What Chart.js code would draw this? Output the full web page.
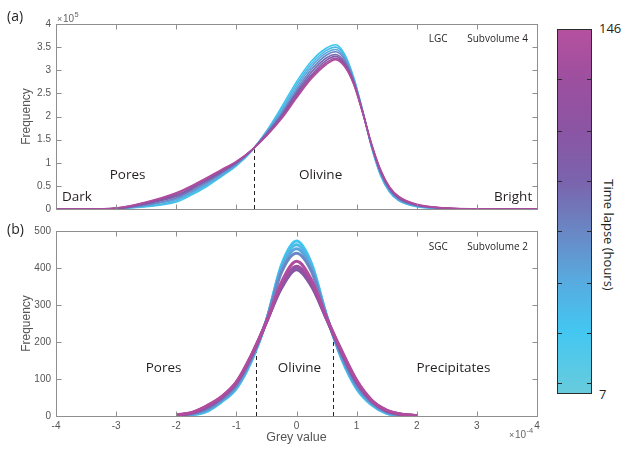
<!DOCTYPE html>
<html>
<head>
<meta charset="utf-8">
<title>Grey value histograms</title>
<script src="https://cdn.jsdelivr.net/npm/chart.js@4.4.1/dist/chart.umd.min.js"></script>
<style>
  body { margin: 0; background: #fff; width: 623px; height: 450px; position: relative; overflow: hidden; font-family: 'Open Sans', sans-serif; }
  canvas { position: absolute; left: 0; }
  #lgcCanvas { top: 0; }
  #sgcCanvas { top: 220px; }
  #cbar { position: absolute; box-sizing: border-box; border: 1px solid #2b2b2b; }
  .cbtick { position: absolute; height: 1px; width: 4px; background: #2b2b2b; }
  .cblabel { position: absolute; font-size: 13px; color: #231f20; line-height: 14px; }
  #cbTitle { position: absolute; font-size: 13px; color: #231f20; white-space: nowrap; transform: translate(-50%, -50%) rotate(90deg); }
</style>
</head>
<body>
<canvas id="lgcCanvas" width="545" height="220"></canvas>
<canvas id="sgcCanvas" width="545" height="230"></canvas>
<div id="cbar"></div>
<div class="cblabel" id="cbMax"></div>
<div class="cblabel" id="cbMin"></div>
<div id="cbTitle">Time lapse (hours)</div>
<script>
// axis ticks
const greyTicks = [-4, -3, -2, -1, 0, 1, 2, 3, 4];
const lgcTicks = [0, 0.5, 1, 1.5, 2, 2.5, 3, 3.5, 4];
const sgcTicks = [0, 100, 200, 300, 400, 500];

// time steps (hours) and colour bar ticks
const timeLapse = [7, 27, 47, 67, 87, 107, 127, 146];
const barTicks = [11, 30, 49, 69, 88, 107, 127];

// LGC subvolume 4, frequency in units of 1e5
const lgcGrey = [-4, -3.5, -3, -2.5, -2, -1.75, -1.5, -1.25, -1, -0.75, -0.5, -0.25, 0, 0.25, 0.5, 0.65, 0.8, 0.95, 1.1, 1.25, 1.4, 1.55, 1.7, 2, 2.5, 3, 4];
const lgc7   = [0, 0, 0.01, 0.05, 0.15, 0.30, 0.48, 0.70, 0.93, 1.25, 1.68, 2.20, 2.75, 3.20, 3.48, 3.55, 3.35, 2.85, 2.13, 1.33, 0.72, 0.36, 0.18, 0.05, 0.01, 0, 0];
const lgc27  = [0, 0, 0.01, 0.06, 0.18, 0.33, 0.51, 0.72, 0.95, 1.25, 1.67, 2.15, 2.69, 3.14, 3.43, 3.50, 3.31, 2.83, 2.12, 1.34, 0.74, 0.38, 0.19, 0.06, 0.01, 0, 0];
const lgc47  = [0, 0, 0.01, 0.08, 0.21, 0.36, 0.54, 0.74, 0.96, 1.26, 1.65, 2.10, 2.63, 3.08, 3.38, 3.45, 3.27, 2.80, 2.11, 1.35, 0.76, 0.40, 0.20, 0.07, 0.01, 0, 0];
const lgc67  = [0, 0, 0.01, 0.09, 0.24, 0.39, 0.57, 0.77, 0.98, 1.26, 1.64, 2.06, 2.57, 3.02, 3.33, 3.40, 3.23, 2.78, 2.11, 1.36, 0.78, 0.41, 0.22, 0.07, 0.01, 0, 0];
const lgc87  = [0, 0, 0.01, 0.11, 0.27, 0.42, 0.60, 0.79, 1.00, 1.26, 1.62, 2.03, 2.52, 2.96, 3.27, 3.34, 3.18, 2.76, 2.10, 1.37, 0.79, 0.43, 0.23, 0.08, 0.015, 0, 0];
const lgc107 = [0, 0, 0.01, 0.12, 0.30, 0.45, 0.62, 0.81, 1.01, 1.27, 1.61, 2.00, 2.48, 2.90, 3.22, 3.30, 3.14, 2.74, 2.09, 1.38, 0.81, 0.44, 0.24, 0.09, 0.015, 0, 0];
const lgc127 = [0, 0, 0.02, 0.14, 0.33, 0.48, 0.65, 0.83, 1.02, 1.27, 1.59, 1.97, 2.44, 2.86, 3.17, 3.26, 3.11, 2.72, 2.09, 1.39, 0.83, 0.46, 0.26, 0.09, 0.02, 0, 0];
const lgc146 = [0, 0, 0.02, 0.15, 0.35, 0.50, 0.67, 0.85, 1.03, 1.27, 1.58, 1.95, 2.40, 2.82, 3.13, 3.23, 3.08, 2.70, 2.08, 1.40, 0.84, 0.47, 0.27, 0.10, 0.02, 0.005, 0];

// SGC subvolume 2
const sgcGrey = [-2, -1.75, -1.5, -1.25, -1, -0.75, -0.5, -0.25, 0, 0.25, 0.5, 0.75, 1, 1.25, 1.5, 1.75, 2];
const sgc7   = [0, 3, 12, 38, 74, 148, 258, 408, 473, 412, 272, 155, 74, 30, 7, 2, 0];
const sgc27  = [0, 4, 14, 40, 77, 151, 258, 402, 463, 405, 270, 158, 77, 32, 8, 2, 0];
const sgc47  = [1, 5, 16, 42, 80, 154, 258, 395, 452, 398, 269, 161, 80, 34, 9, 3, 0];
const sgc67  = [1, 6, 18, 44, 83, 157, 257, 388, 440, 390, 268, 164, 84, 36, 11, 3, 0];
const sgc87  = [2, 7, 22, 48, 88, 160, 254, 348, 398, 352, 262, 170, 90, 40, 13, 4, 1];
const sgc107 = [2, 8, 24, 50, 90, 162, 254, 345, 395, 350, 262, 172, 92, 41, 14, 4, 1];
const sgc127 = [3, 8, 26, 51, 91, 164, 253, 352, 405, 357, 264, 175, 95, 42, 15, 5, 1];
const sgc146 = [3, 9, 27, 52, 92, 165, 255, 362, 418, 368, 266, 177, 97, 43, 16, 5, 1];

// phase thresholds (grey value) and where they meet the curves
const lgcCuts = [-0.7];
const lgcCutTops = [1.29];
const sgcCuts = [-0.68, 0.6];
const sgcCutTops = [182, 222];

const curveColors = ['#3fc6ef', '#4cb8e8', '#5aa5dc', '#6a88c6', '#7768b2', '#8458a6', '#9a4fa0', '#b04b9d'];
// colour bar, bottom (7 h) to top (146 h)
const barColors = ['#68cbdc', '#43c7f2', '#58aadf', '#6a86c4', '#7a64ad', '#8a55a4', '#9c4f9f', '#b5519e'];
const barStops = [0, 0.17, 0.31, 0.45, 0.58, 0.72, 0.86, 1];

const tickFont = { family: 'Liberation Sans', size: 10 };
const axisGrey = '#8f8f8f';
const textDark = '#231f20';

const framePlugin = {
    id: 'frame',
    beforeDatasetsDraw(chart, args, opts) {
        const ctx = chart.ctx, x = chart.scales.x, y = chart.scales.y;
        ctx.save();
        ctx.strokeStyle = '#222';
        ctx.lineWidth = 1;
        ctx.setLineDash([4, 3]);
        opts.cuts.forEach(function (c, i) {
            const px = Math.round(x.getPixelForValue(c)) + 0.5;
            ctx.beginPath();
            ctx.moveTo(px, y.getPixelForValue(0));
            ctx.lineTo(px, y.getPixelForValue(opts.cutTops[i]));
            ctx.stroke();
        });
        ctx.restore();
    },
    afterDraw(chart, args, opts) {
        const ctx = chart.ctx, x = chart.scales.x, y = chart.scales.y;
        const a = chart.chartArea;
        const l = Math.round(a.left) + 0.5, r = Math.round(a.right) + 0.5;
        const t = Math.round(a.top) + 0.5, b = Math.round(a.bottom) + 0.5;
        ctx.save();
        ctx.strokeStyle = axisGrey;
        ctx.lineWidth = 1;
        ctx.strokeRect(l, t, r - l, b - t);
        // inward tick marks on every side
        ctx.beginPath();
        greyTicks.forEach(function (v) {
            const px = Math.round(x.getPixelForValue(v)) + 0.5;
            ctx.moveTo(px, b); ctx.lineTo(px, b - 5);
            ctx.moveTo(px, t); ctx.lineTo(px, t + 5);
        });
        opts.yTicks.forEach(function (v) {
            const py = Math.round(y.getPixelForValue(v)) + 0.5;
            ctx.moveTo(l, py); ctx.lineTo(l + 5, py);
            ctx.moveTo(r, py); ctx.lineTo(r - 5, py);
        });
        ctx.stroke();

        // region names and panel tags
        ctx.fillStyle = textDark;
        ctx.textBaseline = 'middle';
        opts.notes.forEach(function (n) {
            ctx.font = n.size + 'px "Open Sans"';
            ctx.textAlign = n.align;
            ctx.fillText(n.text, x.getPixelForValue(n.x), y.getPixelForValue(n.y));
        });
        ctx.font = '14px "Open Sans"';
        ctx.textAlign = 'left';
        ctx.fillText(opts.tag, 7, opts.tagY);

        // y axis title
        ctx.fillStyle = '#555';
        ctx.font = '12px "Liberation Sans"';
        ctx.textAlign = 'center';
        ctx.save();
        ctx.translate(27, (a.top + a.bottom) / 2);
        ctx.rotate(-Math.PI / 2);
        ctx.fillText('Frequency', 0, 0);
        ctx.restore();

        if (opts.xTitle) {
            ctx.font = '12.5px "Liberation Sans"';
            ctx.fillText(opts.xTitle, (a.left + a.right) / 2, a.bottom + 22);
        }

        // exponent marker
        if (opts.exponent) {
            const e = opts.exponent;
            ctx.textBaseline = 'alphabetic';
            ctx.textAlign = 'left';
            ctx.fillStyle = '#666';
            ctx.font = '9px "Liberation Sans"';
            ctx.fillText('\u00d7', e.x, e.y);
            ctx.font = '10px "Liberation Sans"';
            ctx.fillText('10', e.x + 6, e.y);
            ctx.font = '7.5px "Liberation Sans"';
            ctx.fillText(e.power, e.x + 17.5, e.y - 5);
        }
        ctx.restore();
    }
};

function histogramPanel(canvasEl, grey, series, cfg) {
    const datasets = series.map(function (values, i) {
        return {
            label: timeLapse[i] + ' h',
            data: values.map(function (v, k) { return { x: grey[k], y: v }; }),
            borderColor: curveColors[i],
            borderWidth: cfg.lineWidth,
            pointRadius: 0,
            cubicInterpolationMode: 'monotone',
            fill: false,
            order: series.length - i
        };
    });

    return new Chart(canvasEl.getContext('2d'), {
        type: 'line',
        data: { datasets: datasets },
        options: {
            responsive: false,
            animation: false,
            events: [],
            layout: { padding: cfg.padding },
            plugins: {
                legend: { display: false },
                tooltip: { enabled: false },
                frame: cfg.frame
            },
            scales: {
                x: {
                    type: 'linear',
                    min: -4,
                    max: 4,
                    grid: { display: false, drawTicks: false },
                    border: { display: false },
                    afterBuildTicks: function (s) { s.ticks = greyTicks.map(function (v) { return { value: v }; }); },
                    ticks: {
                        display: cfg.xLabels,
                        autoSkip: false,
                        maxRotation: 0,
                        padding: 4,
                        color: '#555',
                        font: tickFont,
                        callback: function (v) { return String(v); }
                    },
                    afterFit: function (s) { s.height = cfg.xHeight; }
                },
                y: {
                    type: 'linear',
                    min: 0,
                    max: cfg.yMax,
                    grid: { display: false, drawTicks: false },
                    border: { display: false },
                    afterBuildTicks: function (s) { s.ticks = cfg.frame.yTicks.map(function (v) { return { value: v }; }); },
                    ticks: {
                        autoSkip: false,
                        padding: 5,
                        color: '#555',
                        font: tickFont,
                        callback: function (v) { return String(v); }
                    },
                    afterFit: function (s) { s.width = 56; }
                }
            }
        },
        plugins: [framePlugin]
    });
}

function drawColorBar() {
    const top = 29, bottom = 393, left = 557, width = 35;
    const bar = document.getElementById('cbar');
    const lo = timeLapse[0], hi = timeLapse[timeLapse.length - 1];
    const stops = barColors.map(function (c, i) { return c + ' ' + (barStops[i] * 100) + '%'; });
    Object.assign(bar.style, {
        left: left + 'px', top: top + 'px', width: width + 'px', height: (bottom - top + 1) + 'px',
        background: 'linear-gradient(to top, ' + stops.join(', ') + ')'
    });
    const toY = function (t) { return bottom - (t - lo) / (hi - lo) * (bottom - top); };
    barTicks.forEach(function (t) {
        [left + 1, left + width - 5].forEach(function (x) {
            const d = document.createElement('div');
            d.className = 'cbtick';
            d.style.left = x + 'px';
            d.style.top = Math.round(toY(t)) + 'px';
            document.body.appendChild(d);
        });
    });
    const maxLbl = document.getElementById('cbMax');
    maxLbl.textContent = String(hi);
    maxLbl.style.left = '599px';
    maxLbl.style.top = (toY(hi) - 8) + 'px';
    const minLbl = document.getElementById('cbMin');
    minLbl.textContent = String(lo);
    minLbl.style.left = '599px';
    minLbl.style.top = (toY(lo) - 6) + 'px';
    const title = document.getElementById('cbTitle');
    title.style.left = '609px';
    title.style.top = '235px';
}

histogramPanel(document.getElementById('lgcCanvas'), lgcGrey,
    [lgc7, lgc27, lgc47, lgc67, lgc87, lgc107, lgc127, lgc146], {
        lineWidth: 1.6,
        yMax: 4,
        xLabels: false,
        xHeight: 10,
        padding: { top: 24, right: 8, left: 0, bottom: 0 },
        frame: {
            yTicks: lgcTicks,
            cuts: lgcCuts,
            cutTops: lgcCutTops,
            tag: '(a)',
            tagY: 17,
            exponent: { x: 57, y: 22, power: '5' },
            notes: [
                { text: 'Dark', x: -3.9, y: 0.25, align: 'left', size: 13.5 },
                { text: 'Pores', x: -2.81, y: 0.73, align: 'center', size: 13.5 },
                { text: 'Olivine', x: 0.4, y: 0.73, align: 'center', size: 13.5 },
                { text: 'Bright', x: 3.92, y: 0.25, align: 'right', size: 13.5 },
                { text: 'LGC', x: 2.2, y: 3.68, align: 'left', size: 10 },
                { text: 'Subvolume 4', x: 2.84, y: 3.68, align: 'left', size: 10 }
            ]
        }
    });

histogramPanel(document.getElementById('sgcCanvas'), sgcGrey,
    [sgc7, sgc27, sgc47, sgc67, sgc87, sgc107, sgc127, sgc146], {
        lineWidth: 3,
        yMax: 500,
        xLabels: true,
        xHeight: 34,
        padding: { top: 10, right: 8, left: 0, bottom: 0 },
        frame: {
            yTicks: sgcTicks,
            cuts: sgcCuts,
            cutTops: sgcCutTops,
            tag: '(b)',
            tagY: 10,
            xTitle: 'Grey value',
            exponent: { x: 509, y: 218, power: '-4' },
            notes: [
                { text: 'Pores', x: -2.21, y: 128, align: 'center', size: 13.5 },
                { text: 'Olivine', x: 0.05, y: 128, align: 'center', size: 13.5 },
                { text: 'Precipitates', x: 2.61, y: 128, align: 'center', size: 13.5 },
                { text: 'SGC', x: 2.2, y: 457, align: 'left', size: 10 },
                { text: 'Subvolume 2', x: 2.84, y: 457, align: 'left', size: 10 }
            ]
        }
    });

drawColorBar();
</script>
</body>
</html>
